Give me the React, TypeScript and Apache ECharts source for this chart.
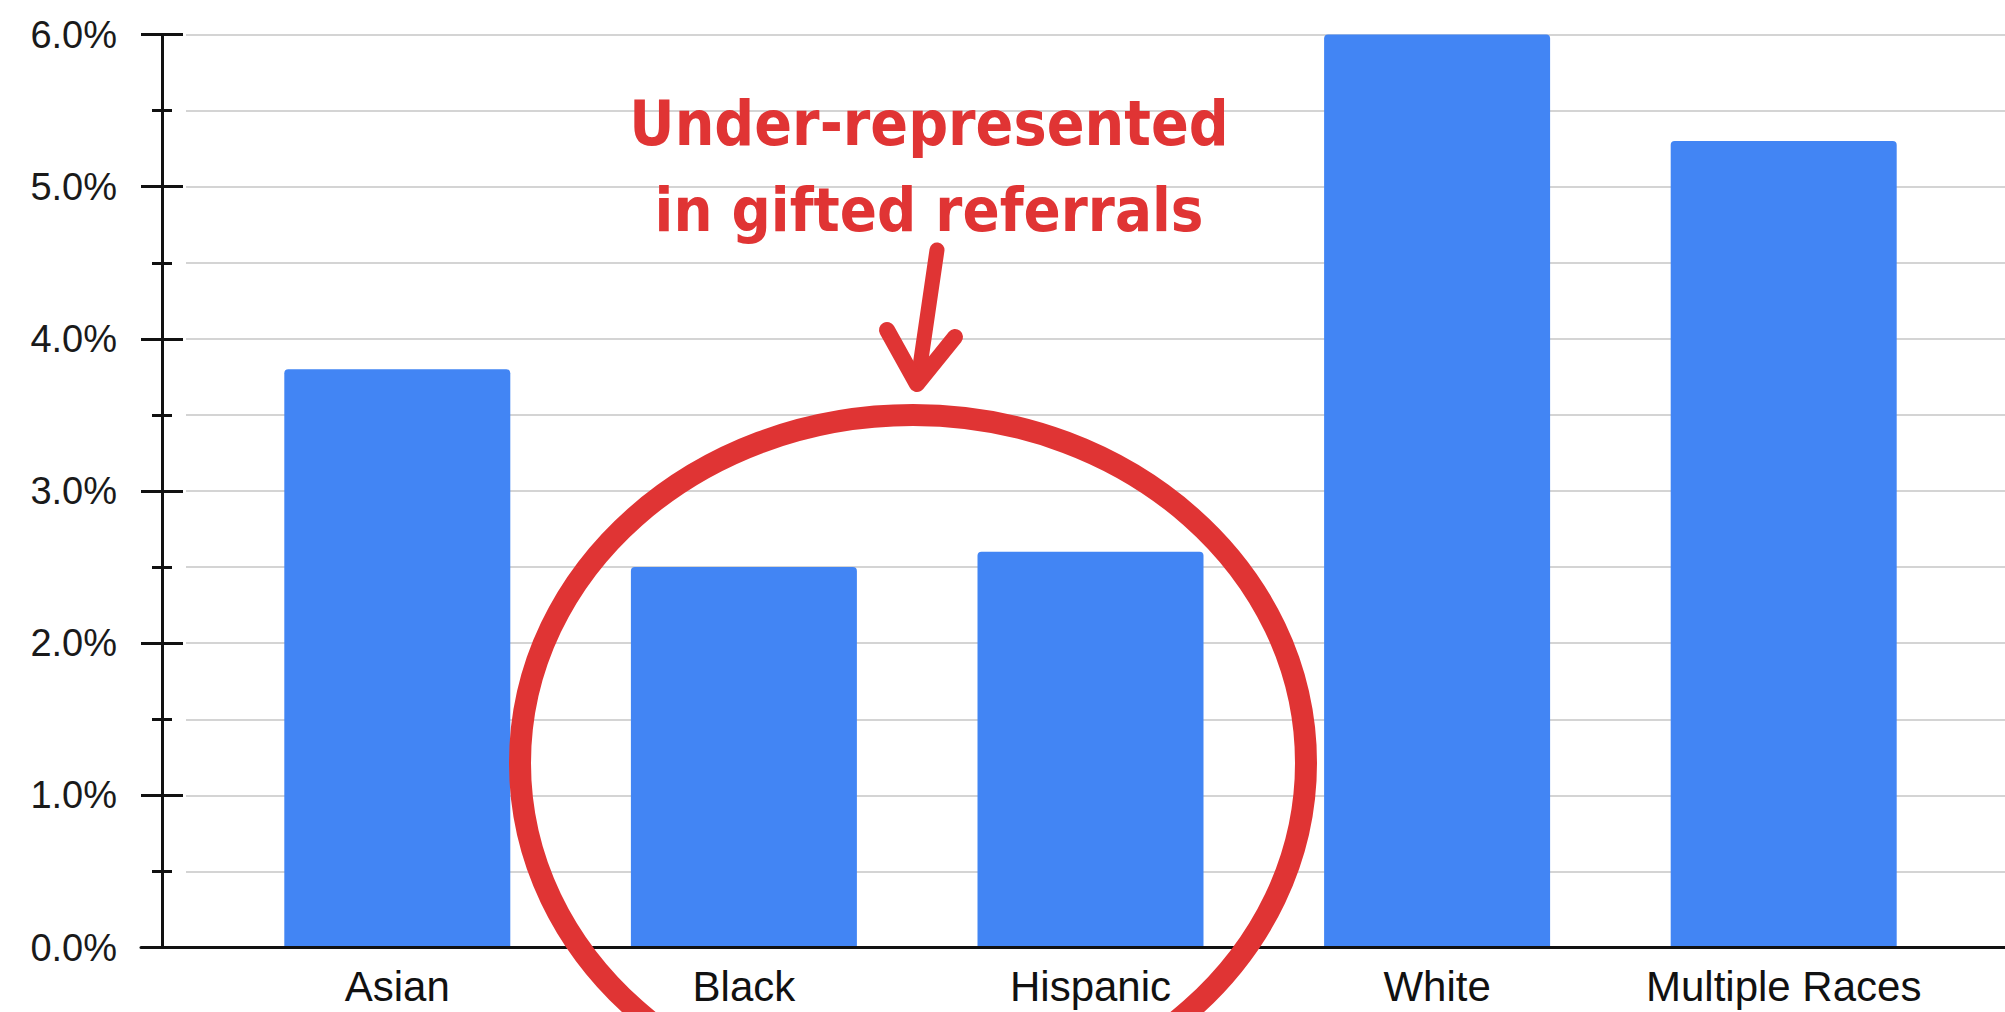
import React, { useEffect, useRef } from "react";
import * as echarts from "echarts";

// Gifted referral rate by race / ethnicity (percent of students)
const categories = ["Asian", "Black", "Hispanic", "White", "Multiple Races"];
const referralRate = [3.8, 2.5, 2.6, 6.0, 5.3];

// Value axis range and tick spacing (percent)
const yMin = 0;
const yMax = 6;
const yInterval = 1;
const gridInterval = 0.5;

// Call-out text
const calloutLines = ["Under-represented", "in gifted referrals"];

const BAR_BLUE = "#4285f4";
const CALLOUT_RED = "#e03434";
const AXIS_BLACK = "#111111";
const LABEL_FONT = "'Liberation Sans', Arial, sans-serif";

export default function App() {
  const ref = useRef<HTMLDivElement>(null);

  useEffect(() => {
    if (!ref.current) return;
    const chart = echarts.init(ref.current, null, { renderer: "svg" });

    const top = 34.5;
    const bottom = 64.5;

    const option: any = {
      animation: false,
      backgroundColor: "#ffffff",
      grid: [
        // plotting area for the bars
        { left: 224, right: 48, top, bottom, outerBoundsMode: "none" },
        // horizontal guide lines
        { left: 186, right: 0, top, bottom, outerBoundsMode: "none" },
        // baseline running the full width
        { left: 141, right: 0, top, bottom, outerBoundsMode: "none" },
      ],
      xAxis: [
        {
          type: "category",
          gridIndex: 0,
          data: categories,
          axisLine: { show: false },
          axisTick: { show: false },
          axisLabel: {
            interval: 0,
            margin: 18,
            fontSize: 42,
            lineHeight: 42,
            color: AXIS_BLACK,
            fontFamily: LABEL_FONT,
          },
          splitLine: { show: false },
        },
        { type: "value", gridIndex: 1, show: false },
        {
          type: "value",
          gridIndex: 2,
          z: 5,
          axisLine: { show: true, lineStyle: { color: AXIS_BLACK, width: 3 } },
          axisTick: { show: false },
          axisLabel: { show: false },
          splitLine: { show: false },
        },
      ],
      yAxis: [
        {
          // outer half of the ticks, axis line and labels
          type: "value",
          gridIndex: 0,
          position: "left",
          offset: 62,
          min: yMin,
          max: yMax,
          interval: yInterval,
          z: 5,
          axisLine: { show: true, lineStyle: { color: AXIS_BLACK, width: 3 } },
          axisTick: { show: true, length: 21, lineStyle: { color: AXIS_BLACK, width: 3 } },
          minorTick: { show: true, splitNumber: 2, length: 10, lineStyle: { color: AXIS_BLACK, width: 3 } },
          axisLabel: {
            margin: 45,
            fontSize: 38,
            color: "#1a1a1a",
            fontFamily: LABEL_FONT,
            formatter: (v: number) => v.toFixed(1) + "%",
          },
          splitLine: { show: false },
        },
        {
          // inner half of the ticks
          type: "value",
          gridIndex: 0,
          position: "left",
          offset: 62,
          min: yMin,
          max: yMax,
          interval: yInterval,
          z: 5,
          axisLine: { show: false },
          axisTick: { show: true, inside: true, length: 21, lineStyle: { color: AXIS_BLACK, width: 3 } },
          minorTick: { show: true, splitNumber: 2, length: 10, lineStyle: { color: AXIS_BLACK, width: 3 } },
          axisLabel: { show: false },
          splitLine: { show: false },
        },
        {
          type: "value",
          gridIndex: 1,
          min: yMin,
          max: yMax,
          interval: gridInterval,
          axisLine: { show: false },
          axisTick: { show: false },
          axisLabel: { show: false },
          splitLine: { show: true, lineStyle: { color: "#d4d4d4", width: 2 } },
        },
        { type: "value", gridIndex: 2, min: yMin, max: yMax, show: false },
      ],
      series: [
        {
          type: "bar",
          xAxisIndex: 0,
          yAxisIndex: 0,
          data: referralRate,
          barWidth: 226,
          itemStyle: { color: BAR_BLUE, borderRadius: [4, 4, 0, 0] },
        },
      ],
      graphic: [
        {
          type: "text",
          x: 929,
          y: 123,
          z: 100,
          style: {
            text: calloutLines[0],
            fill: CALLOUT_RED,
            font: "bold 62px 'DejaVu Sans Condensed', 'DejaVu Sans', sans-serif",
            textAlign: "center",
            textVerticalAlign: "middle",
          },
        },
        {
          type: "text",
          x: 929,
          y: 209,
          z: 100,
          style: {
            text: calloutLines[1],
            fill: CALLOUT_RED,
            font: "bold 61px 'DejaVu Sans Condensed', 'DejaVu Sans', sans-serif",
            textAlign: "center",
            textVerticalAlign: "middle",
          },
        },
        {
          type: "polyline",
          z: 100,
          shape: { points: [[937, 250], [918, 380]] },
          style: { stroke: CALLOUT_RED, lineWidth: 15, lineCap: "round", fill: "none" },
        },
        {
          type: "polyline",
          z: 100,
          shape: { points: [[887, 330], [917, 384], [955, 337]] },
          style: { stroke: CALLOUT_RED, lineWidth: 16, lineCap: "round", lineJoin: "round", fill: "none" },
        },
        {
          type: "ellipse",
          z: 100,
          shape: { cx: 913, cy: 763, rx: 393, ry: 348 },
          style: { stroke: CALLOUT_RED, lineWidth: 22, fill: "none" },
        },
      ],
    };

    chart.setOption(option);
    return () => chart.dispose();
  }, []);

  return (
    <div
      ref={ref}
      style={{ position: "absolute", left: 0, top: 0, width: 2005, height: 1012 }}
    />
  );
}
